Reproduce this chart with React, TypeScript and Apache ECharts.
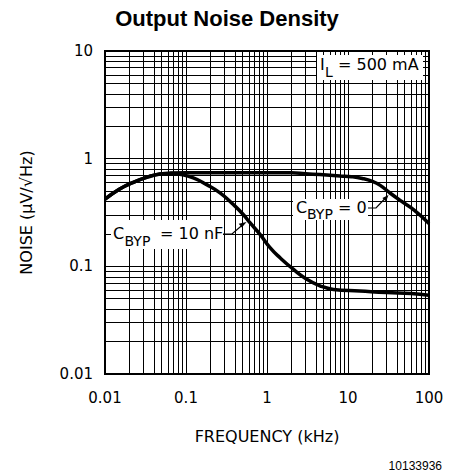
import React, { useEffect, useRef } from 'react';
import * as echarts from 'echarts';

// Frequency (kHz) / noise (µV/√Hz)
const cbyp0Freq = [0.01, 0.015, 0.022, 0.036, 0.048, 0.065, 0.1, 0.3, 1, 2, 3, 4.5, 8, 11, 15, 20, 25, 33, 45, 65, 100];
const cbyp0Noise = [0.42, 0.52, 0.6, 0.686, 0.72, 0.735, 0.74, 0.74, 0.74, 0.738, 0.725, 0.711, 0.69, 0.68, 0.655, 0.615, 0.565, 0.48, 0.405, 0.335, 0.25];

const cbyp10Freq = [0.01, 0.015, 0.022, 0.036, 0.048, 0.065, 0.084, 0.123, 0.18, 0.263, 0.384, 0.509, 0.616, 0.82, 1.09, 1.45, 2.11, 3.09, 4.5, 6.6, 14, 30, 60, 100];
const cbyp10Noise = [0.42, 0.52, 0.6, 0.686, 0.72, 0.728, 0.715, 0.663, 0.574, 0.481, 0.375, 0.303, 0.254, 0.198, 0.149, 0.12, 0.094, 0.076, 0.066, 0.061, 0.059, 0.057, 0.056, 0.054];

const xTickValues = [0.01, 0.1, 1, 10, 100];
const xTickLabels = ['0.01', '0.1', '1', '10', '100'];
const yTickValues = [0.01, 0.1, 1, 10];
const yTickLabels = ['0.01', '0.1', '1', '10'];

const xDecades = [0.01, 0.1, 1, 10];
const yDecades = [0.01, 0.1, 1];

function gridValues(decades: number[]) {
  const out: number[] = [];
  decades.forEach((d, i) => {
    for (let m = i === 0 ? 2 : 1; m <= 9; m++) out.push(+(d * m).toPrecision(3));
  });
  return out;
}

function labelFor(values: number[], labels: string[]) {
  return (v: number) => {
    for (let i = 0; i < values.length; i++) {
      if (Math.abs(Math.log10(v) - Math.log10(values[i])) < 1e-6) return labels[i];
    }
    return '';
  };
}

const TXT = 'DejaVu Sans';

function txt(text: string, x: number, y: number, size: number, extra: any = {}) {
  return {
    type: 'text',
    x,
    y,
    z: 60,
    silent: true,
    style: {
      text,
      fontSize: size,
      fontFamily: TXT,
      fill: '#000',
      verticalAlign: 'middle',
      align: 'left',
      ...extra,
    },
  };
}

export default function App() {
  const ref = useRef<HTMLDivElement>(null);
  useEffect(() => {
    if (!ref.current) return;
    const chart = echarts.init(ref.current, undefined, { renderer: 'svg' });
    const xGrid = gridValues(xDecades);
    const yGrid = gridValues(yDecades);
    const gridLine = { color: '#000', width: 1, type: 'solid' };
    chart.setOption({
      animation: false,
      backgroundColor: '#fff',
      title: {
        text: 'Output Noise Density',
        left: 'center',
        top: 2,
        textStyle: { fontFamily: 'Liberation Sans', fontWeight: 'bold', fontSize: 22, color: '#000' },
      },
      grid: {
        left: 105,
        top: 51,
        right: 25,
        bottom: 102,
        show: true,
        borderColor: '#000',
        borderWidth: 2,
        backgroundColor: 'transparent',
      },
      xAxis: {
        type: 'log',
        logBase: 10,
        min: 0.01,
        max: 100,
        splitNumber: 4,
        name: 'FREQUENCY (kHz)',
        nameLocation: 'middle',
        nameGap: 54,
        nameTextStyle: { fontFamily: TXT, fontSize: 16, color: '#000' },
        axisLine: { lineStyle: { color: '#000', width: 2 } },
        axisTick: { show: false },
        splitLine: { show: false },
        axisLabel: {
          margin: 16,
          fontFamily: TXT,
          fontSize: 15,
          color: '#000',
          formatter: labelFor(xTickValues, xTickLabels),
        },
      },
      yAxis: {
        type: 'log',
        logBase: 10,
        min: 0.01,
        max: 10,
        splitNumber: 3,
        name: 'NOISE (µV/√Hz)',
        nameLocation: 'middle',
        nameGap: 71,
        nameRotate: 90,
        nameTextStyle: { fontFamily: TXT, fontSize: 16, color: '#000' },
        axisLine: { lineStyle: { color: '#000', width: 2 } },
        axisTick: { show: false },
        splitLine: { show: false },
        axisLabel: {
          margin: 12,
          fontFamily: TXT,
          fontSize: 15,
          color: '#000',
          formatter: labelFor(yTickValues, yTickLabels),
        },
      },
      series: [
        {
          type: 'line',
          name: 'grid',
          data: [],
          silent: true,
          z: 1,
          markLine: {
            silent: true,
            symbol: ['none', 'none'],
            label: { show: false },
            lineStyle: gridLine,
            emphasis: { disabled: true },
            data: [
              ...xGrid.map((v) => ({ xAxis: v })),
              ...yGrid.map((v) => ({ yAxis: v })),
            ],
          },
        },
        {
          type: 'line',
          name: 'CBYP = 0',
          showSymbol: false,
          smooth: 0.5,
          z: 5,
          lineStyle: { color: '#000', width: 3.5 },
          data: cbyp0Freq.map((f, i) => [f, cbyp0Noise[i]]),
        },
        {
          type: 'line',
          name: 'CBYP = 10 nF',
          showSymbol: false,
          smooth: 0.5,
          z: 5,
          lineStyle: { color: '#000', width: 3.5 },
          data: cbyp10Freq.map((f, i) => [f, cbyp10Noise[i]]),
        },
      ],
      graphic: [
        // I_L box
        { type: 'rect', z: 50, silent: true, shape: { x: 317, y: 55, width: 106, height: 25 }, style: { fill: '#fff' } },
        txt('I', 320, 64, 16),
        txt('L', 325, 71.5, 14),
        txt('= 500 mA', 338, 64, 16),
        // C_BYP = 0
        { type: 'rect', z: 50, silent: true, shape: { x: 293, y: 199, width: 75, height: 21 }, style: { fill: '#fff' } },
        txt('C', 296, 207.5, 16),
        txt('BYP', 307, 213.5, 14),
        txt('= 0', 338, 207.5, 16),
        { type: 'polyline', z: 60, silent: true, shape: { points: [[368, 208], [376, 208], [386, 197.5]] }, style: { stroke: '#000', lineWidth: 1.2, fill: 'none' } },
        { type: 'polygon', z: 60, silent: true, shape: { points: [[388.5, 195], [386.1, 201.5], [382.4, 198.1]] }, style: { fill: '#000' } },
        // C_BYP = 10 nF
        { type: 'rect', z: 50, silent: true, shape: { x: 111, y: 220, width: 112, height: 29 }, style: { fill: '#fff' } },
        txt('C', 113, 233, 16),
        txt('BYP', 124.5, 241, 14),
        txt('= 10 nF', 160, 233, 16),
        { type: 'polyline', z: 60, silent: true, shape: { points: [[223, 234], [232, 234], [243, 224.5]] }, style: { stroke: '#000', lineWidth: 1.2, fill: 'none' } },
        { type: 'polygon', z: 60, silent: true, shape: { points: [[246.5, 222], [241.9, 227.5], [238.7, 223.7]] }, style: { fill: '#000' } },
        // figure number
        {
          type: 'text',
          x: 442,
          y: 466,
          z: 60,
          silent: true,
          style: { text: '10133936', fontSize: 12, fontFamily: 'Liberation Sans', fill: '#000', align: 'right', verticalAlign: 'middle' },
        },
      ],
    });
    return () => chart.dispose();
  }, []);
  return <div ref={ref} style={{ position: 'fixed', left: 0, top: 0, width: 454, height: 476 }} />;
}
